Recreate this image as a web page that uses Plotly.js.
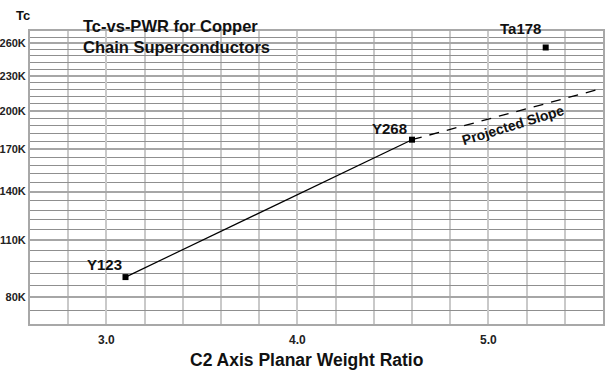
<!DOCTYPE html>
<html>
<head>
<meta charset="utf-8">
<script src="https://cdn.plot.ly/plotly-3.0.1.min.js"></script>
<style>
  html, body { margin: 0; padding: 0; background: #ffffff; }
  #chart { width: 615px; height: 390px; }
</style>
</head>
<body>
<div id="chart"></div>
<script>
// ---- data ----
const compounds = ['Y123', 'Y268', 'Ta178'];
const pwr = [3.1, 4.6, 5.3];              // C2 axis planar weight ratio
const tcK = [90, 177, 256];               // Tc in kelvin
const measuredX = [3.1, 4.6];
const measuredTc = [90, 177];
const projectedX = [4.6, 5.6];
const projectedTc = [177, 219];
const yTickK = [80, 110, 140, 170, 200, 230, 260];
const yTickText = ['80K', '110K', '140K', '170K', '200K', '230K', '260K'];
const yMinorK = [68, 74, 86, 92, 98, 104, 116, 122, 128, 134, 146, 152, 158, 164, 176, 182, 188, 194, 206, 212, 218, 224, 236, 242, 248, 254, 266];
const yRangeK = [68, 272];
const xTickVals = [3, 4, 5];
const xTickText = ['3.0', '4.0', '5.0'];
const xRange = [2.6, 5.6];

// power-scale transform of the Tc axis (the reference axis is compressed, ~T^0.4)
const tr = k => Math.pow(k, 0.4);

const FONT = 'Liberation Sans, Arial, Helvetica, sans-serif';

const traces = [
  {
    x: measuredX, y: measuredTc.map(tr), mode: 'lines', type: 'scatter',
    line: { color: '#000000', width: 1.2 }, hoverinfo: 'skip'
  },
  {
    x: projectedX, y: projectedTc.map(tr), mode: 'lines', type: 'scatter',
    line: { color: '#000000', width: 1.3, dash: '10px,8px' }, hoverinfo: 'skip'
  },
  {
    x: pwr, y: tcK.map(tr), mode: 'markers', type: 'scatter',
    marker: { symbol: 'square', size: 6, color: '#000000' },
    text: compounds, hoverinfo: 'text'
  }
];

const labelShift = { 'Y123': [-21, 13], 'Y268': [-23, 11], 'Ta178': [-25, 19] };
const annotations = compounds.map((c, i) => ({
  x: pwr[i], y: tr(tcK[i]), xref: 'x', yref: 'y', text: '<b>' + c + '</b>',
  showarrow: false, xshift: labelShift[c][0], yshift: labelShift[c][1],
  font: { family: FONT, size: 15, color: '#111111' }
}));
annotations.push({
  x: 5.13, y: tr(188.5), xref: 'x', yref: 'y', text: '<b>Projected Slope</b>',
  showarrow: false, textangle: -17,
  font: { family: FONT, size: 14, color: '#111111' }
});
annotations.push({
  x: -0.028, y: 1.085, xref: 'paper', yref: 'paper', text: '<b>Tc</b>',
  showarrow: false, font: { family: FONT, size: 13, color: '#111111' }
});
annotations.push({
  x: 0.4825, y: -0.083, xref: 'paper', yref: 'paper', yanchor: 'top',
  text: '<b>C2 Axis Planar Weight Ratio</b>',
  showarrow: false, font: { family: FONT, size: 17.5, color: '#111111' }
});

const layout = {
  width: 615, height: 390,
  margin: { l: 30, r: 12, t: 31, b: 66 },
  paper_bgcolor: '#ffffff', plot_bgcolor: '#ffffff',
  showlegend: false,
  title: {
    text: '<b>Tc-vs-PWR for Copper<br>Chain Superconductors</b>',
    xref: 'container', yref: 'container',
    x: 83 / 615, xanchor: 'left', y: 1 - 32 / 390, yanchor: 'top',
    font: { family: FONT, size: 16.5, color: '#111111' }
  },
  xaxis: {
    range: xRange, tickmode: 'array', tickvals: xTickVals, ticktext: xTickText,
    showgrid: true, gridcolor: '#c9c9c9', gridwidth: 2,
    minor: { dtick: 0.2, tick0: 0, showgrid: true, gridcolor: '#c9c9c9', gridwidth: 2 },
    ticks: '', ticklabelstandoff: 4, zeroline: false,
    showline: true, mirror: true, linecolor: '#a8a8a8', linewidth: 2,
    tickfont: { family: FONT, size: 12, color: '#222222', weight: 'bold' }
  },
  yaxis: {
    range: yRangeK.map(tr), tickmode: 'array', tickvals: yTickK.map(tr), ticktext: yTickText,
    showgrid: true, gridcolor: '#a6a6a6', gridwidth: 2,
    minor: { tickmode: 'array', tickvals: yMinorK.map(tr), showgrid: true, gridcolor: '#8f8f8f', gridwidth: 1 },
    ticks: '', ticklabelstandoff: 0, zeroline: false,
    showline: true, mirror: true, linecolor: '#a8a8a8', linewidth: 2,
    tickfont: { family: FONT, size: 11, color: '#222222', weight: 'bold' }
  },
  annotations: annotations
};

Plotly.newPlot('chart', traces, layout, { staticPlot: true, displayModeBar: false });
</script>
</body>
</html>
